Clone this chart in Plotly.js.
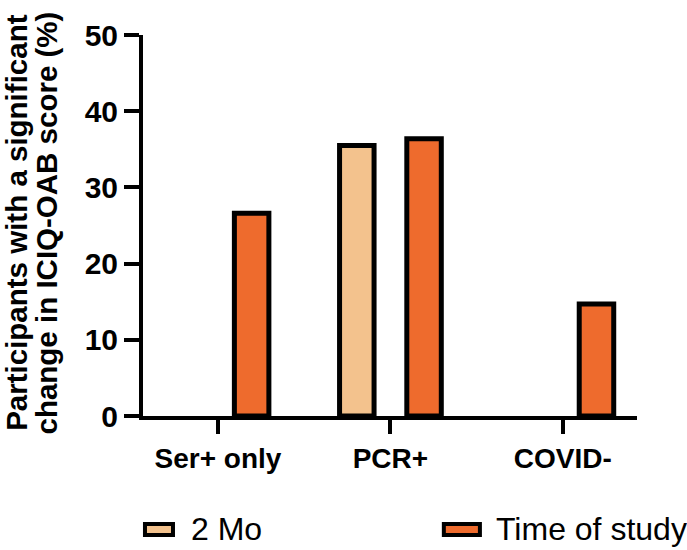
<!DOCTYPE html>
<html>
<head>
<meta charset="utf-8">
<script src="https://cdn.plot.ly/plotly-3.0.1.min.js"></script>
<style>html,body{margin:0;padding:0;background:#fff;}#chart{width:687px;height:550px;}</style>
</head>
<body>
<div id="chart"></div>
<script>
const categories = ["Ser+ only", "PCR+", "COVID-"];
const seriesNames = ["2 Mo", "Time of study"];
const twoMonths = [0, 35.5, 0];
const timeOfStudy = [26.6, 36.4, 14.7];
const yTicks = [0, 10, 20, 30, 40, 50];
const titleLines = ["Participants with a significant", "change in ICIQ-OAB score (%)"];

const colors = ["#F3C28D", "#EE6B2D"];
const FONT = "Arial, 'Liberation Sans', sans-serif";

const traces = [twoMonths, timeOfStudy].map((vals, i) => ({
  type: "bar",
  name: seriesNames[i],
  x: categories,
  y: vals,
  marker: {color: colors[i], line: {color: "#000", width: vals.map(v => v > 0 ? 5 : 0)}},
  showlegend: false,
  hoverinfo: "x+y+name"
}));

// custom legend (swatch + label) placed below the plot
const legendPos = [
  {x0: 0.004, x1: 0.0607, tx: 0.093},
  {x0: 0.609, x1: 0.682, tx: 0.710}
];
const shapes = legendPos.map((p, i) => ({
  type: "rect", xref: "paper", yref: "paper",
  x0: p.x0, x1: p.x1, y0: -0.3123, y1: -0.2835,
  fillcolor: colors[i], line: {color: "#000", width: 4}
}));
const annotations = legendPos.map((p, i) => ({
  xref: "paper", yref: "paper", x: p.tx, y: -0.2979,
  xanchor: "left", yanchor: "middle", showarrow: false,
  text: seriesNames[i], font: {family: FONT, size: 32, color: "#000"}
}));
const titleX = [-0.255, -0.195];
titleLines.forEach((t, i) => annotations.push({
  xref: "paper", yref: "paper", x: titleX[i], y: 0.507,
  xanchor: "center", yanchor: "middle", showarrow: false, textangle: -90,
  text: "<b>" + t + "</b>", font: {family: FONT, size: 29.5, color: "#000"}
}));

const layout = {
  width: 687, height: 550,
  margin: {l: 143, r: 50, t: 35, b: 134},
  paper_bgcolor: "#fff", plot_bgcolor: "#fff",
  barmode: "group", bargap: 0.22, bargroupgap: 0.487,
  font: {family: FONT, color: "#000"},
  xaxis: {
    type: "category", range: [-0.435, 2.43],
    showline: true, linecolor: "#000", linewidth: 4,
    ticks: "outside", ticklen: 14, tickwidth: 4, tickcolor: "#000",
    tickfont: {family: FONT, size: 28, color: "#000", weight: "bold"},
    showgrid: false, zeroline: false, fixedrange: true
  },
  yaxis: {
    range: [0, 50], tickvals: yTicks, ticktext: yTicks.map(String),
    showline: true, linecolor: "#000", linewidth: 4,
    ticks: "outside", ticklen: 15, tickwidth: 4, tickcolor: "#000",
    tickfont: {family: FONT, size: 30, color: "#000", weight: "bold"},
    showgrid: false, zeroline: false, fixedrange: true
  },
  shapes: shapes,
  annotations: annotations,
  showlegend: false
};

Plotly.newPlot("chart", traces, layout, {displayModeBar: false, staticPlot: true});
</script>
</body>
</html>
